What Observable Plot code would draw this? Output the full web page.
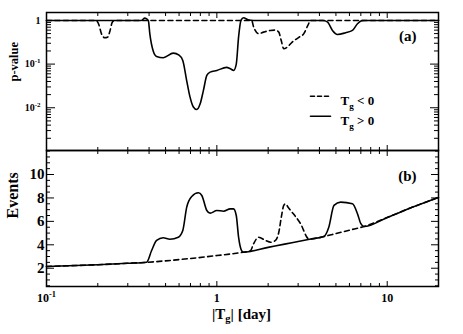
<!DOCTYPE html>
<html>
<head>
<meta charset="utf-8">
<script src="https://cdn.jsdelivr.net/npm/d3@7"></script>
<script src="https://cdn.jsdelivr.net/npm/@observablehq/plot@0.6"></script>
<style>
html,body{margin:0;padding:0;background:#fff;}
#chart{width:463px;height:334px;}
#chart svg{display:block;overflow:visible;background:transparent;}
</style>
</head>
<body>
<div id="chart"></div>
<script>
// ---------- data ----------
// (a) p-value, T_g < 0 (dashed)
const pNegT = [0.1,0.195,0.203,0.21,0.22,0.228,0.236,0.243,0.252,1.6,1.645,1.76,1.88,2.06,2.2,2.31,2.385,2.47,2.59,2.77,3.03,3.24,3.42,3.55,20];
const pNegV = [1,1,0.8,0.5,0.4,0.41,0.58,0.9,1,1,0.7,0.5,0.54,0.59,0.6,0.54,0.35,0.225,0.245,0.32,0.41,0.5,0.77,1,1];
// (a) p-value, T_g > 0 (solid)
const pPosT = [0.1,0.36,0.378,0.396,0.404,0.423,0.443,0.485,0.555,0.6,0.631,0.665,0.696,0.728,0.762,0.798,0.834,0.873,0.913,1.0,1.14,1.2,1.255,1.3,1.341,1.385,1.435,1.52,1.65,4.2,4.45,4.77,5.1,5.7,6.25,6.69,7.1,7.4,20];
const pPosV = [1,1,1.13,1,0.5,0.2,0.15,0.14,0.178,0.16,0.121,0.042,0.0175,0.0104,0.0091,0.0123,0.025,0.055,0.0655,0.0716,0.084,0.078,0.0716,0.1,0.414,1,1.15,1.04,1,1,0.93,0.59,0.478,0.523,0.59,0.84,0.99,1,1];
// (b) events, T_g < 0 (dashed)
const eNegT = [0.1,0.2,0.3,0.385,0.5,0.7,1.0,1.3,1.45,1.572,1.644,1.759,1.93,2.07,2.2,2.31,2.39,2.47,2.53,2.62,3.1,3.47,4.25,5.0,6.0,7.3,10,14,20];
const eNegV = [2.15,2.3,2.42,2.5,2.63,2.83,3.08,3.28,3.38,3.48,4.1,4.65,4.37,4.22,4.35,5.07,6.36,7.36,7.5,7.2,5.8,4.5,4.71,4.96,5.25,5.56,6.33,7.2,8.05];
// (b) events, T_g > 0 (solid)
const ePosT = [0.1,0.2,0.3,0.387,0.414,0.443,0.484,0.53,0.594,0.631,0.665,0.712,0.779,0.816,0.873,0.913,1.0,1.094,1.198,1.253,1.3,1.341,1.404,1.435,2.0,2.5,3.0,3.5,4.25,4.54,4.87,5.33,6.25,6.69,7.0,7.3,10,14,20];
const ePosV = [2.15,2.3,2.42,2.51,3.51,4.37,4.6,4.48,4.65,5.22,7.2,8.13,8.44,8.21,6.93,6.7,6.93,6.87,7.07,7.07,6.5,4.65,3.45,3.37,3.78,4.06,4.28,4.47,4.71,5.5,7.36,7.64,7.5,6.65,5.8,5.56,6.33,7.2,8.05];

// ticks and labels
const xMajor = [0.1, 1, 10];
const xMajorLabels = ["10^{-1}", "1", "10"];
const xMinor = [0.2,0.3,0.4,0.5,0.6,0.7,0.8,0.9,2,3,4,5,6,7,8,9,20];
const pMajor = [1, 0.1, 0.01];
const pMajorLabels = ["1", "10^{-1}", "10^{-2}"];
const pMinor = [0.002,0.003,0.004,0.005,0.006,0.007,0.008,0.009,0.02,0.03,0.04,0.05,0.06,0.07,0.08,0.09,0.2,0.3,0.4,0.5,0.6,0.7,0.8,0.9];
const eMajor = [2, 4, 6, 8, 10];
const eMajorLabels = ["2", "4", "6", "8", "10"];
const eMinor = [0.5,1,1.5,2.5,3,3.5,4.5,5,5.5,6.5,7,7.5,8.5,9,9.5,10.5,11,11.5,12];
const legendLabels = ["T_{g} < 0", "T_{g} > 0"];
const panelLabels = ["(a)", "(b)"];
const yLabels = ["p-value", "Events"];
const xLabel = "|T_{g}| [day]";

// ---------- helpers ----------
const FONT = '"Liberation Serif","Times New Roman",Times,serif';
const rows = (T, V) => T.map((t, i) => ({T: t, v: V[i]}));
const lookup = (vals, labels) => d => labels[vals.findIndex(v => Math.abs(v - d) < 1e-9)] ?? "";
const W = 463, ML = 46, MR = 25;
const lineShape = {draw(ctx, l) { ctx.moveTo(0, 0); ctx.lineTo(0, -l); }};
const dash = "5,3.5";

function yTicks(major, minor, majLen, minLen) {
  return ["left", "right"].flatMap(anchor => [
    Plot.axisY({anchor, ticks: major, tickSize: -majLen, fill: "none", label: null, stroke: "black", strokeWidth: 1}),
    Plot.axisY({anchor, ticks: minor, tickSize: -minLen, fill: "none", label: null, stroke: "black", strokeWidth: 1})
  ]);
}
function xTicks(anchors) {
  return anchors.flatMap(anchor => [
    Plot.axisX({anchor, ticks: xMajor, tickSize: -5, fill: "none", label: null, stroke: "black", strokeWidth: 1}),
    Plot.axisX({anchor, ticks: xMinor, tickSize: -3, fill: "none", label: null, stroke: "black", strokeWidth: 1})
  ]);
}
function rich(svg) {
  d3.select(svg).selectAll("text").each(function() {
    const s = this.textContent;
    if (!/[_^]\{/.test(s)) return;
    const parts = s.split(/([_^]\{[^}]*\})/).filter(d => d !== "");
    while (this.firstChild) this.removeChild(this.firstChild);
    let shift = 0;
    for (const part of parts) {
      const t = document.createElementNS("http://www.w3.org/2000/svg", "tspan");
      if (part[0] === "_" || part[0] === "^") {
        const sub = part[0] === "_";
        t.textContent = part.slice(2, -1);
        t.setAttribute("font-size", "70%");
        t.setAttribute("dy", sub ? "0.35em" : "-0.6em");
        shift = sub ? 0.245 : -0.42;
      } else {
        t.textContent = part;
        if (shift) t.setAttribute("dy", `${-shift}em`);
        shift = 0;
      }
      this.appendChild(t);
    }
  });
  return svg;
}
const style = {fontFamily: FONT, fontWeight: "bold", fontSize: "10px", color: "black", background: "transparent", overflow: "visible"};

// ---------- top panel (a) ----------
const panelA = Plot.plot({
  width: W, height: 150, marginLeft: ML, marginRight: MR, marginTop: 12, marginBottom: 0,
  style,
  x: {type: "log", domain: [0.1, 20], axis: null},
  y: {type: "log", domain: [0.00105, 1.52], axis: null},
  marks: [
    Plot.line(rows(pNegT, pNegV), {x: "T", y: "v", stroke: "black", strokeWidth: 1.6, strokeDasharray: dash, curve: "monotone-x"}),
    Plot.line(rows(pPosT, pPosV), {x: "T", y: "v", stroke: "black", strokeWidth: 1.6, curve: "monotone-x"}),
    ...yTicks(pMajor, pMinor, 9, 5),
    ...xTicks(["top", "bottom"]),
    Plot.axisY({ticks: pMajor, tickSize: 0, tickPadding: 6, tickFormat: lookup(pMajor, pMajorLabels), fontSize: 10, fontWeight: "bold", label: null, fill: "black"}),
    Plot.text([yLabels[0]], {frameAnchor: "left", dx: -33, rotate: -90, fontSize: 12.5, fontWeight: "bold", fill: "black"}),
    Plot.text([panelLabels[0]], {frameAnchor: "top-right", dx: -22, dy: 17.5, textAnchor: "end", fontSize: 15, fontWeight: "bold", fill: "black"}),
    Plot.vector([legendLabels[0]], {frameAnchor: "top-left", dx: 273, dy: 83.7, length: 18, rotate: 90, shape: lineShape, stroke: "black", strokeWidth: 1.6, strokeDasharray: "4,3"}),
    Plot.vector([legendLabels[1]], {frameAnchor: "top-left", dx: 274, dy: 103.7, length: 20, rotate: 90, shape: lineShape, stroke: "black", strokeWidth: 1.6}),
    Plot.text([legendLabels[0]], {frameAnchor: "top-left", dx: 294, dy: 83.7, textAnchor: "start", fontSize: 13, fontWeight: "bold", fill: "black"}),
    Plot.text([legendLabels[1]], {frameAnchor: "top-left", dx: 294, dy: 103.7, textAnchor: "start", fontSize: 13, fontWeight: "bold", fill: "black"}),
    Plot.frame({stroke: "black", strokeWidth: 1.5})
  ]
});

// ---------- bottom panel (b) ----------
const panelB = Plot.plot({
  width: W, height: 184, marginLeft: ML, marginRight: MR, marginTop: 0, marginBottom: 48,
  style,
  x: {type: "log", domain: [0.1, 20], axis: null},
  y: {type: "linear", domain: [0.44, 12.05], axis: null},
  marks: [
    Plot.line(rows(eNegT, eNegV), {x: "T", y: "v", stroke: "black", strokeWidth: 1.6, strokeDasharray: dash, curve: "monotone-x"}),
    Plot.line(rows(ePosT, ePosV), {x: "T", y: "v", stroke: "black", strokeWidth: 1.6, curve: "monotone-x"}),
    ...yTicks(eMajor, eMinor, 8, 4),
    ...xTicks(["top", "bottom"]),
    Plot.axisY({ticks: eMajor, tickSize: 0, tickPadding: 2, tickFormat: lookup(eMajor, eMajorLabels), fontSize: 15, fontWeight: "bold", label: null, fill: "black"}),
    Plot.axisX({anchor: "bottom", ticks: xMajor, tickSize: 0, tickPadding: 7, tickFormat: lookup(xMajor, xMajorLabels), fontSize: 12, fontWeight: "bold", label: null, fill: "black"}),
    Plot.text([yLabels[1]], {frameAnchor: "left", dx: -34, rotate: -90, fontSize: 16, fontWeight: "bold", fill: "black"}),
    Plot.text([xLabel], {frameAnchor: "bottom", dx: -1, dy: 32, fontSize: 15, fontWeight: "bold", fill: "black"}),
    Plot.text([panelLabels[1]], {frameAnchor: "top-right", dx: -22, dy: 20, textAnchor: "end", fontSize: 15, fontWeight: "bold", fill: "black"}),
    Plot.frame({stroke: "black", strokeWidth: 1.5})
  ]
});

const chart = document.getElementById("chart");
chart.appendChild(rich(panelA));
chart.appendChild(rich(panelB));
</script>
</body>
</html>
